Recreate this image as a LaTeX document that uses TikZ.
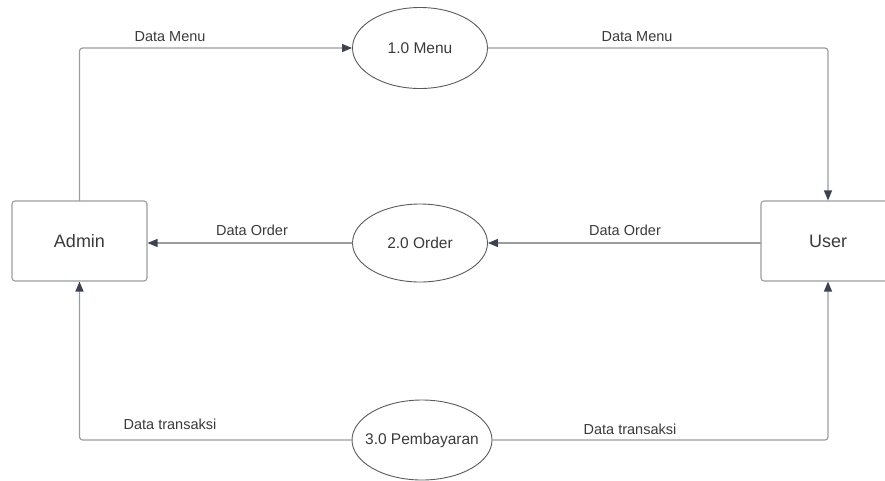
\documentclass[tikz,border=0pt]{standalone}
\usepackage{fontspec}
\setmainfont{Liberation Sans}
\usetikzlibrary{arrows.meta,shapes.geometric}
\definecolor{linegray}{HTML}{9A9CA0}
\definecolor{edgegray}{HTML}{5A5A5A}
\definecolor{tipdark}{HTML}{3C4350}
\definecolor{txtgray}{HTML}{3A3A3A}
\begin{document}
\begin{tikzpicture}[x=1pt, y=-1pt, font=\fontsize{14.5}{17}\selectfont, line join=round, line cap=round,
		>={Triangle[length=10pt,width=8pt,color=tipdark]},
		entity/.style={draw=linegray, line width=1.1pt, rounded corners=3pt, minimum width=135pt, minimum height=80pt, font=\fontsize{18}{21}\selectfont, text=txtgray},
		proses/.style={draw=edgegray, line width=0.9pt, ellipse, minimum width=135pt, minimum height=80pt},
		every label/.style={font=\fontsize{15.5}{18}\selectfont, text=txtgray},
		flow/.style={draw=linegray, line width=1.2pt, rounded corners=3pt},
		lbl/.style={text=txtgray}]
	\useasboundingbox (0,0) rectangle (885,480);
	% entitas luar
	\node[entity] (admin) at (79.5,241) {Admin};
	\node[entity, minimum width=134pt] (user) at (828,241) {User};
	% proses
	\node[proses, minimum height=81pt, label=center:{1.0 Menu}] (menu) at (420,48) {};
	\node[proses, minimum height=78pt, label=center:{2.0 Order}] (order) at (420,243) {};
	\node[proses, minimum width=140pt, label=center:{3.0 Pembayaran}] (bayar) at (422,440) {};
	% aliran data
	\draw[flow,->] (admin.north) |- (menu.west);
	\draw[flow,->] (menu.east) -| (user.north);
	\draw[flow,->] (user.west |- order.east) -- (order.east);
	\draw[flow,->] (order.west) -- (order.west -| admin.east);
	\draw[flow,->] (bayar.west) -| (admin.south);
	\draw[flow,->] (bayar.east) -| (user.south);
	\node[lbl] (menu1) at (170,37) {Data Menu};
	\node[lbl] (menu2) at (637,37) {Data Menu};
	\node[lbl] (order1) at (252,230) {Data Order};
	\node[lbl] (order2) at (625,230) {Data Order};
	\node[lbl] (bayar1) at (170,424) {Data transaksi};
	\node[lbl] (bayar2) at (630,429) {Data transaksi};
\end{tikzpicture}
\end{document}
